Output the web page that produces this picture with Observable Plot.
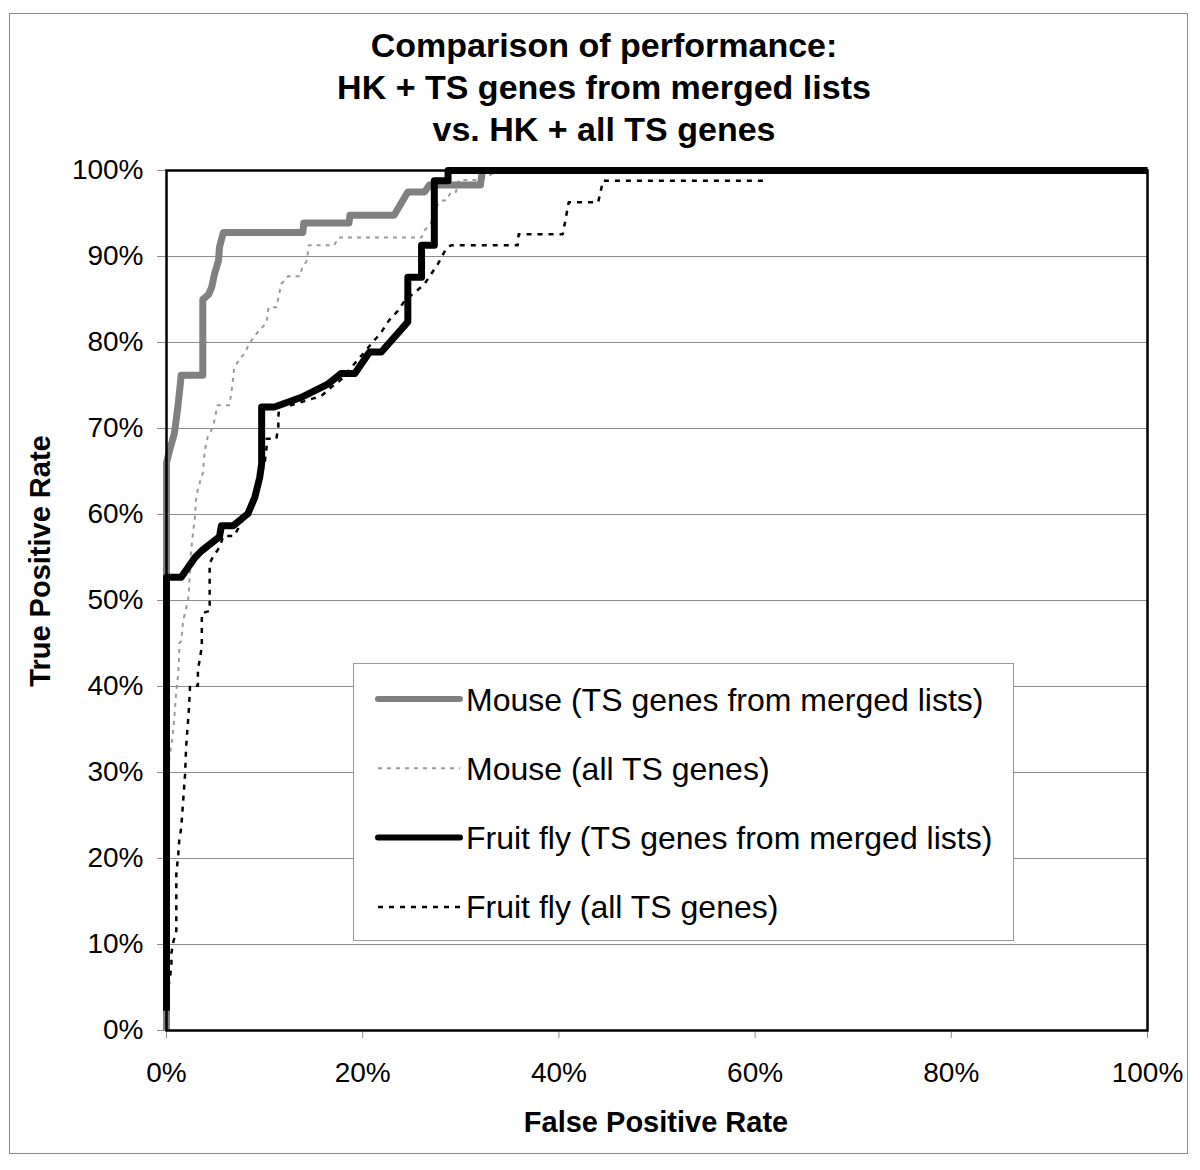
<!DOCTYPE html>
<html>
<head>
<meta charset="utf-8">
<script src="https://cdn.jsdelivr.net/npm/d3@7"></script>
<script src="https://cdn.jsdelivr.net/npm/@observablehq/plot@0.6"></script>
<style>
  body { margin: 0; background: white; }
  #chart { position: relative; width: 1200px; height: 1170px; }
</style>
</head>
<body>
<div id="chart"></div>
<script>
// ---- Data (percent) ----
const titleLines = ["Comparison of performance:", "HK + TS genes from merged lists", "vs. HK + all TS genes"];
const xLabel = "False Positive Rate";
const yLabel = "True Positive Rate";
const xTicks = [0, 20, 40, 60, 80, 100];
const yTicks = [0, 10, 20, 30, 40, 50, 60, 70, 80, 90, 100];
const seriesNames = [
  "Mouse (TS genes from merged lists)",
  "Mouse (all TS genes)",
  "Fruit fly (TS genes from merged lists)",
  "Fruit fly (all TS genes)"
];

const mouseMergedFPR = [0, 0, 0.3, 0.8, 1.1, 1.3, 1.5, 3.7, 3.7, 4.3, 4.6, 4.9, 5.3, 5.4, 5.8, 13.9, 14.0, 18.6, 18.7, 23.2, 24.6, 26.3, 26.8, 32.0, 32.2, 100];
const mouseMergedTPR = [0, 66, 67.4, 69.4, 72, 74, 76.2, 76.2, 85, 85.6, 86.4, 88, 89.5, 91.1, 92.8, 92.8, 93.9, 93.9, 94.8, 94.8, 97.5, 97.5, 98.3, 98.3, 100, 100];

const mouseAllFPR = [0, 0.1, 0.2, 0.3, 0.6, 0.8, 1.0, 1.2, 1.3, 1.3, 1.5, 1.7, 2.2, 2.4, 2.5, 2.7, 2.9, 3.0, 3.2, 3.7, 3.9, 4.2, 4.75, 5.2, 6.4, 6.6, 6.9, 7.4, 8.0, 8.4, 9.0, 9.7, 10.2, 10.4, 11.2, 11.7, 12.4, 13.6, 13.8, 14.3, 14.5, 17.1, 17.5, 26.0, 26.3, 27.0, 27.3, 28.0, 28.5, 29.0, 29.5, 29.8, 32.1, 33.0, 34.0, 100];
const mouseAllTPR = [0, 27, 28.3, 31.8, 34, 36.4, 39.5, 41.5, 43.8, 45, 45.3, 47.7, 50, 53.1, 55.8, 57.8, 59.7, 61.6, 63, 64.8, 67.4, 69, 70.2, 72.7, 72.7, 74, 77, 78, 78.8, 79.8, 80.8, 81.7, 82.3, 84.1, 84.1, 86.8, 87.7, 87.7, 88.6, 89.5, 91.3, 91.3, 92.2, 92.2, 93, 94, 95.5, 96.5, 96.5, 97.5, 97.5, 98.9, 98.9, 99.5, 100, 100];

const flyMergedFPR = [0, 0, 1.5, 2.9, 3.6, 5.4, 5.6, 6.8, 8.3, 9.0, 9.5, 9.7, 9.7, 11.0, 13.7, 16.5, 17.8, 19.2, 20.7, 21.9, 24.6, 24.6, 26.0, 26.0, 27.3, 27.3, 28.7, 28.7, 100];
const flyMergedTPR = [2.3, 52.7, 52.7, 55, 55.8, 57.4, 58.7, 58.7, 60.1, 62, 64.3, 65.9, 72.5, 72.5, 73.6, 75.2, 76.4, 76.4, 78.9, 78.9, 82.4, 87.6, 87.6, 91.3, 91.3, 98.8, 98.8, 100, 100];

const flyAllFPR = [0, 0.2, 0.5, 0.5, 0.7, 1.0, 1.0, 1.2, 1.3, 1.5, 1.7, 1.9, 2.0, 2.3, 2.4, 3.2, 3.2, 3.6, 3.6, 4.4, 4.4, 4.7, 5.4, 5.8, 6.9, 8.3, 9.0, 9.6, 10.0, 10.2, 10.2, 11.2, 11.4, 11.4, 11.5, 12.7, 15.8, 16.8, 17.8, 21.0, 21.9, 22.7, 23.6, 24.3, 25.3, 26.3, 27.0, 27.7, 28.5, 29.0, 35.8, 35.9, 40.4, 41.0, 44.0, 44.5, 61.1];
const flyAllTPR = [0, 5, 7.4, 9, 10.3, 11.6, 18.2, 20.5, 22.1, 23.6, 26.7, 29.9, 33, 37.6, 40.1, 40.1, 41.9, 44.6, 48.5, 48.8, 54.3, 55, 56.2, 57.5, 57.5, 60.5, 62, 64.5, 65.9, 67.8, 68.8, 68.8, 70.2, 71.3, 72.7, 72.7, 73.8, 74.8, 75.7, 80, 81.2, 82.6, 83.7, 84.9, 85.8, 86.8, 88, 89.2, 90.9, 91.3, 91.3, 92.6, 92.6, 96.3, 96.3, 98.8, 98.8];

// ---- Styles ----
const styles = [
  {stroke: "#808080", strokeWidth: 7, dash: null},
  {stroke: "#9a9a9a", strokeWidth: 2, dash: "4,5"},
  {stroke: "#000000", strokeWidth: 7, dash: null},
  {stroke: "#000000", strokeWidth: 2.5, dash: "5,6"}
];

const toRows = (xs, ys) => xs.map((x, i) => ({x, y: ys[i]}));
const seriesData = [
  toRows(mouseMergedFPR, mouseMergedTPR),
  toRows(mouseAllFPR, mouseAllTPR),
  toRows(flyMergedFPR, flyMergedTPR),
  toRows(flyAllFPR, flyAllTPR)
];
const drawOrder = [1, 3, 0, 2];

const font = "'Liberation Sans', Arial, Helvetica, sans-serif";

const plot = Plot.plot({
  width: 1200,
  height: 1170,
  marginLeft: 166,
  marginRight: 53,
  marginTop: 170,
  marginBottom: 140,
  style: {fontFamily: font, fontSize: "28px", background: "white", color: "black", overflow: "visible"},
  x: {domain: [0, 100]},
  y: {domain: [0, 100]},
  marks: [
    Plot.gridY(yTicks, {stroke: "#8c8c8c", strokeOpacity: 1, strokeWidth: 1}),
    Plot.axisY(yTicks, {tickFormat: d => d + "%", tickSize: 9, tickPadding: 14, stroke: "#8c8c8c", fill: "black", fontSize: 28, label: null}),
    Plot.axisX(xTicks, {tickFormat: d => d + "%", tickSize: 8, tickPadding: 24, stroke: "#8c8c8c", fill: "black", fontSize: 28, label: null}),
    ...drawOrder.map(i => Plot.line(seriesData[i], {
      x: "x", y: "y",
      stroke: styles[i].stroke,
      strokeWidth: styles[i].strokeWidth,
      strokeDasharray: styles[i].dash,
      strokeLinejoin: "round",
      strokeLinecap: "butt"
    })),
    Plot.frame({stroke: "black", strokeWidth: 2.5})
  ]
});

document.getElementById("chart").appendChild(plot);

const svg = d3.select(plot);

// outer border
svg.append("rect")
  .attr("x", 9.5).attr("y", 13.5).attr("width", 1178).attr("height", 1140)
  .attr("fill", "none").attr("stroke", "#8a8a8a").attr("stroke-width", 1);

// title
svg.append("g").selectAll("text").data(titleLines).join("text")
  .attr("x", 604).attr("y", (d, i) => 45 + i * 42)
  .attr("dy", "0.36em")
  .attr("text-anchor", "middle")
  .attr("font-family", font).attr("font-weight", "bold").attr("font-size", 34)
  .attr("fill", "black")
  .text(d => d);

// axis titles
svg.append("text")
  .attr("x", 656).attr("y", 1122).attr("dy", "0.36em")
  .attr("text-anchor", "middle")
  .attr("font-family", font).attr("font-weight", "bold").attr("font-size", 29)
  .text(xLabel);
svg.append("text")
  .attr("transform", "translate(40,561) rotate(-90)")
  .attr("dy", "0.36em")
  .attr("text-anchor", "middle")
  .attr("font-family", font).attr("font-weight", "bold").attr("font-size", 29)
  .text(yLabel);

// legend
const lg = svg.append("g");
lg.append("rect")
  .attr("x", 353.5).attr("y", 663.5).attr("width", 660).attr("height", 277)
  .attr("fill", "white").attr("stroke", "#9a9a9a").attr("stroke-width", 1);
seriesNames.forEach((name, i) => {
  const cy = 699 + i * 69.3;
  const s = styles[i];
  lg.append("line")
    .attr("x1", 378).attr("x2", 460).attr("y1", cy).attr("y2", cy)
    .attr("stroke", s.stroke)
    .attr("stroke-width", s.strokeWidth === 7 ? 6 : s.strokeWidth)
    .attr("stroke-linecap", s.dash ? "butt" : "round")
    .attr("stroke-dasharray", s.dash);
  lg.append("text")
    .attr("x", 466).attr("y", cy).attr("dy", "0.36em")
    .attr("text-anchor", "start")
    .attr("font-family", font).attr("font-size", 32)
    .attr("fill", "black")
    .text(name);
});
</script>
</body>
</html>
